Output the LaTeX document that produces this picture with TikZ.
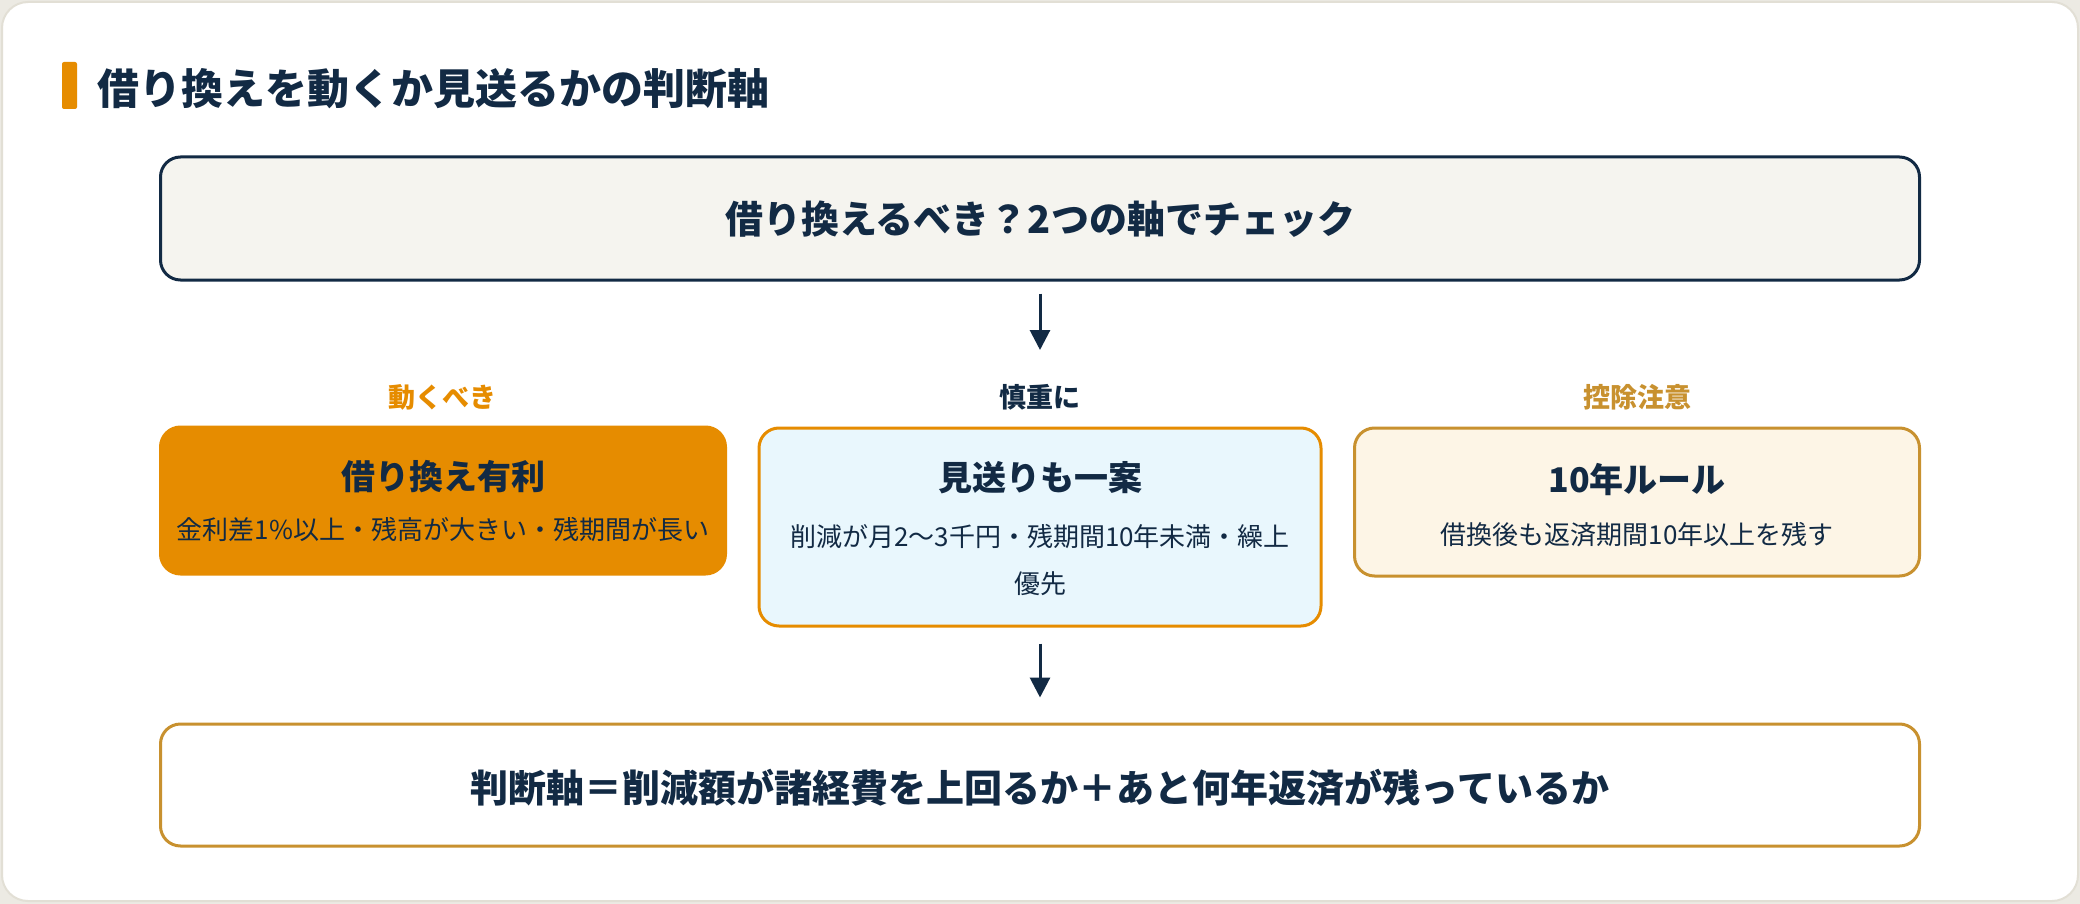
\documentclass[tikz,border=0pt]{standalone}
\usepackage{fontspec}
\setmainfont{Noto Sans CJK JP}
\usetikzlibrary{arrows.meta}
\definecolor{navy}{HTML}{122A44}
\definecolor{orng}{HTML}{E68C00}
\definecolor{gold}{HTML}{C8912F}
\definecolor{pagebg}{HTML}{ECEAE3}
\definecolor{cardline}{HTML}{E2DFD5}
\definecolor{topfill}{HTML}{F5F4EF}
\definecolor{bluefill}{HTML}{E9F7FD}
\definecolor{creamfill}{HTML}{FDF5E6}
\tikzset{
  box/.style={rectangle, rounded corners=20pt, line width=3pt, inner sep=0pt},
  flowarrow/.style={draw=navy, line width=3pt, -{Triangle[width=20pt,length=20pt]}},
  headtxt/.style={font=\fontsize{38}{46}\selectfont\bfseries, text=navy},
  labeltxt/.style={font=\fontsize{27}{32}\selectfont\bfseries},
  cardtitle/.style={font=\fontsize{34}{40}\selectfont\bfseries, text=navy},
  cardsub/.style={font=\fontsize{26}{47}\selectfont, text=navy, align=center},
}
\begin{document}
\begin{tikzpicture}[x=1pt,y=-1pt]
\useasboundingbox (0,0) rectangle (2080,904);
\fill[pagebg] (0,0) rectangle (2080,904);
\draw[cardline, fill=white, line width=2pt, rounded corners=26pt] (2,2) rectangle (2078,901);
% title
\fill[orng, rounded corners=2pt] (62,62) rectangle (77,109);
\node[anchor=west, font=\fontsize{42}{48}\selectfont\bfseries, text=navy] (title) at (94,89) {借り換えを動くか見送るかの判断軸};
% top box
\node[box, draw=navy, fill=topfill, minimum width=1759pt, minimum height=123pt] (top) at (1040,218.5) {};
\node[headtxt] (toptxt) at (1040,219) {借り換えるべき？2つの軸でチェック};
% labels
\node[labeltxt, text=orng] (lab1) at (442,397) {動くべき};
\node[labeltxt, text=navy] (lab2) at (1040,397) {慎重に};
\node[labeltxt, text=gold] (lab3) at (1637,397) {控除注意};
% left box
\node[box, draw=orng, fill=orng, minimum width=565pt, minimum height=147pt] (left) at (443,500.5) {};
\node[cardtitle] (lefttitle) at (443,477) {借り換え有利};
\node[cardsub] (leftsub) at (443,530) {金利差1\%以上・残高が大きい・残期間が長い};
% middle box
\node[box, draw=orng, fill=bluefill, minimum width=562pt, minimum height=198pt] (mid) at (1040,527) {};
\node[cardtitle] (midtitle) at (1040,478) {見送りも一案};
\node[cardsub] (midsub) at (1040,560) {削減が月2〜3千円・残期間10年未満・繰上\\優先};
% right box
\node[box, draw=gold, fill=creamfill, minimum width=565pt, minimum height=148pt] (right) at (1637,502) {};
\node[cardtitle] (righttitle) at (1637,480) {10年ルール};
\node[cardsub] (rightsub) at (1637,535) {借換後も返済期間10年以上を残す};
% bottom box
\node[box, draw=gold, fill=white, minimum width=1759pt, minimum height=122pt] (bot) at (1040,785) {};
\node[headtxt] (bottxt) at (1040,788) {判断軸＝削減額が諸経費を上回るか＋あと何年返済が残っているか};
% arrows
\coordinate (arrowend) at (1040,350);
\draw[flowarrow] ([yshift=-12pt]top.south) -- (arrowend);
\draw[flowarrow] ([yshift=-16pt]mid.south) -- ([yshift=25pt]bot.north);
\end{tikzpicture}
\end{document}
